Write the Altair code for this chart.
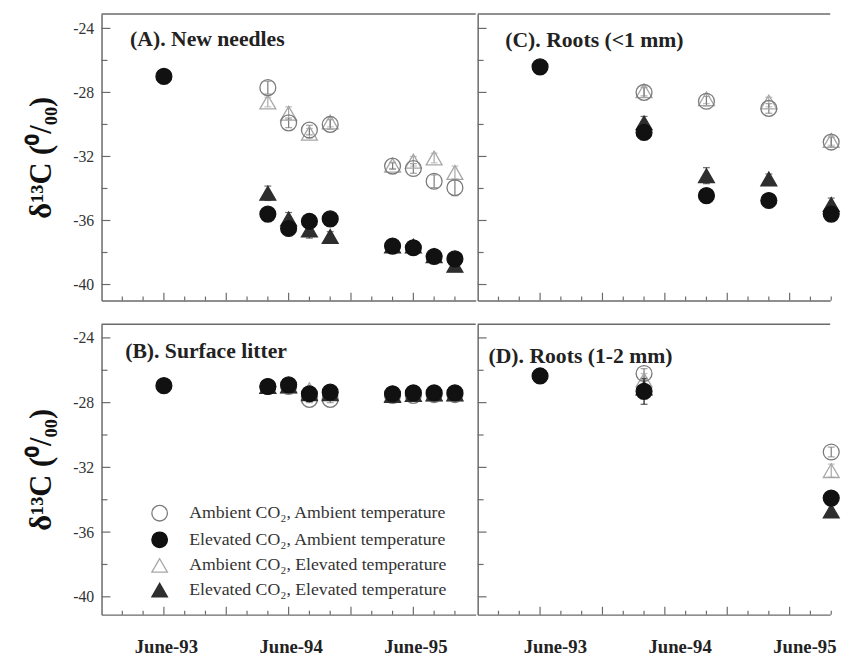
import altair as alt
import pandas as pd

SERIES = [
    "Ambient CO₂, Ambient temperature",
    "Elevated CO₂, Ambient temperature",
    "Ambient CO₂, Elevated temperature",
    "Elevated CO₂, Elevated temperature",
]
SHAPES = ["circle", "circle", "triangle-up", "triangle-up"]
FILLS = ["transparent", "#111111", "transparent", "#2e2e2e"]
STROKES = ["#7a7a7a", "#111111", "#a6a6a6", "#2e2e2e"]
DRAW_ORDER = [2, 0, 3, 1]

X_LABEL_POS = [0, 12, 24]
X_LABELS = ["June-93", "June-94", "June-95"]
X_MAJOR = [0, 6, 12, 18, 24]
X_MINOR = [-4, -2, 2, 4, 8, 10, 14, 16, 20, 22, 26, 28]
Y_MAJOR = [-40, -36, -32, -28, -24]
Y_MINOR = [-38, -34, -30, -26]
Y_TITLE = "δ¹³C (⁰/₀₀)"

# Panel A: New needles
A_MONTHS = [0, 10, 12, 14, 16, 22, 24, 26, 28]
A_VALS = [
    [None, -27.7, -29.9, -30.35, -30.0, -32.6, -32.75, -33.55, -33.95],
    [-27.0, -35.6, -36.5, -36.05, -35.9, -37.6, -37.7, -38.25, -38.4],
    [None, -28.6, -29.3, -30.55, -29.85, -32.55, -32.3, -32.1, -33.0],
    [None, -34.3, -35.9, -36.6, -37.0, -37.6, -37.6, -38.2, -38.8],
]
A_ERRS = [
    [None, 0.4, 0.3, 0.3, 0.3, 0.2, 0.3, 0.4, 0.5],
    [0.2, 0.3, 0.3, 0.3, 0.3, 0.2, 0.2, 0.2, 0.3],
    [None, 0.3, 0.4, 0.3, 0.3, 0.2, 0.3, 0.3, 0.4],
    [None, 0.45, 0.4, 0.5, 0.3, 0.2, 0.2, 0.2, 0.3],
]

# Panel B: Surface litter
B_MONTHS = [0, 10, 12, 14, 16, 22, 24, 26, 28]
B_VALS = [
    [None, -27.0, -27.0, -27.8, -27.8, -27.55, -27.55, -27.5, -27.5],
    [-26.95, -27.0, -26.9, -27.45, -27.35, -27.45, -27.4, -27.4, -27.4],
    [None, -27.0, -27.0, -27.2, -27.4, -27.5, -27.5, -27.5, -27.5],
    [None, -27.0, -26.95, -27.45, -27.45, -27.55, -27.5, -27.45, -27.45],
]
B_ERRS = [
    [None, 0.2, 0.2, 0.2, 0.2, 0.2, 0.2, 0.2, 0.2],
    [0.2, 0.2, 0.2, 0.2, 0.2, 0.2, 0.2, 0.2, 0.2],
    [None, 0.2, 0.2, 0.2, 0.2, 0.2, 0.2, 0.2, 0.2],
    [None, 0.2, 0.2, 0.2, 0.2, 0.2, 0.2, 0.2, 0.2],
]

# Panel C: Roots (<1 mm)
C_MONTHS = [0, 10, 16, 22, 28]
C_VALS = [
    [None, -28.0, -28.55, -29.0, -31.1],
    [-26.4, -30.5, -34.45, -34.75, -35.6],
    [None, -27.9, -28.4, -28.6, -31.0],
    [None, -29.9, -33.2, -33.4, -35.0],
]
C_ERRS = [
    [None, 0.3, 0.3, 0.3, 0.3],
    [0.2, 0.3, 0.3, 0.3, 0.3],
    [None, 0.3, 0.3, 0.3, 0.3],
    [None, 0.4, 0.5, 0.3, 0.4],
]

# Panel D: Roots (1-2 mm)
D_MONTHS = [0, 10, 28]
D_VALS = [
    [None, -26.2, -31.05],
    [-26.35, -27.3, -33.9],
    [None, -26.6, -32.2],
    [None, -27.1, -34.7],
]
D_ERRS = [
    [None, 0.3, 0.3],
    [0.2, 0.8, 0.4],
    [None, 0.4, 0.4],
    [None, 0.5, 0.35],
]

FONT = "Liberation Serif"
AXIS_COLOR = "#6a6a6a"

LEGEND = alt.Legend(
    title=None, orient="none", legendX=50, legendY=183,
    labelFont=FONT, labelFontSize=18, labelColor="#333333", labelLimit=0,
    symbolSize=250, symbolStrokeWidth=1.3, rowPadding=5, labelOffset=21,
    padding=0,
)


def long_df(months, vals, errs):
    rows = []
    for si in DRAW_ORDER:
        for m, v, e in zip(months, vals[si], errs[si]):
            if v is not None:
                rows.append({"month": m, "series": SERIES[si], "value": v,
                             "err": e, "ecolor": STROKES[si]})
    return pd.DataFrame(rows)


label_expr = "''"
for pos, lab in zip(reversed(X_LABEL_POS), reversed(X_LABELS)):
    label_expr = f"datum.value == {pos} ? '{lab}' : ({label_expr})"


def panel(months, vals, errs, title, tx, ty, width, height, xdom, ydom,
          left, bottom, label_offset, legend):
    df = long_df(months, vals, errs)
    xs = alt.Scale(domain=xdom, nice=False, zero=False)
    ys = alt.Scale(domain=ydom, nice=False, zero=False)
    xaxis = alt.Axis(
        values=X_LABEL_POS, labels=bottom, labelExpr=label_expr, ticks=False,
        grid=False, title="", labelPadding=23, labelFontSize=19,
        labelFontWeight="bold", labelOffset=label_offset, labelFont=FONT,
        labelColor="#222222", domainColor=AXIS_COLOR, domainWidth=1.5,
    )
    if left:
        yaxis = alt.Axis(
            values=Y_MAJOR, labels=True, ticks=False, grid=False, title=Y_TITLE,
            labelExpr="datum.value < 0 ? '-' + abs(datum.value) : '' + datum.value",
            labelPadding=8, labelFontSize=16, labelFont=FONT, labelColor="#333333",
            titleFont=FONT, titleFontSize=31, titleFontWeight="bold",
            titlePadding=16, titleColor="#111111",
            domainColor=AXIS_COLOR, domainWidth=1.5,
        )
    else:
        yaxis = alt.Axis(values=Y_MAJOR, labels=False, ticks=False, grid=False, title="",
                         domainColor=AXIS_COLOR, domainWidth=1.5)

    leg = LEGEND if legend else None
    base = alt.Chart(df)
    points = base.mark_point(filled=True, size=260, strokeWidth=1.3, opacity=1).encode(
        x=alt.X("month:Q", scale=xs, axis=xaxis),
        y=alt.Y("value:Q", scale=ys, axis=yaxis),
        shape=alt.Shape("series:N", scale=alt.Scale(domain=SERIES, range=SHAPES), legend=leg),
        fill=alt.Fill("series:N", scale=alt.Scale(domain=SERIES, range=FILLS), legend=leg),
        stroke=alt.Stroke("series:N", scale=alt.Scale(domain=SERIES, range=STROKES), legend=leg),
    )
    bars = base.mark_errorbar(ticks=True, size=7, thickness=1.2).encode(
        x=alt.X("month:Q", scale=xs, axis=xaxis),
        y=alt.Y("value:Q", scale=ys, axis=yaxis),
        yError="err:Q",
        color=alt.Color("ecolor:N", scale=None),
    )
    one = pd.DataFrame({"k": [0]})
    ymaj = alt.Chart(pd.DataFrame({"v": Y_MAJOR})).mark_rule(color=AXIS_COLOR, strokeWidth=1.2).encode(
        y=alt.Y("v:Q", scale=ys, axis=yaxis), x=alt.value(0), x2=alt.value(9))
    ymin = alt.Chart(pd.DataFrame({"v": Y_MINOR})).mark_rule(color=AXIS_COLOR, strokeWidth=1.2).encode(
        y=alt.Y("v:Q", scale=ys, axis=yaxis), x=alt.value(0), x2=alt.value(6))
    xmaj = alt.Chart(pd.DataFrame({"m": X_MAJOR})).mark_rule(color=AXIS_COLOR, strokeWidth=1.2).encode(
        x=alt.X("m:Q", scale=xs, axis=xaxis), y=alt.value(height), y2=alt.value(height - 8))
    xmin = alt.Chart(pd.DataFrame({"m": X_MINOR})).mark_rule(color=AXIS_COLOR, strokeWidth=1.2).encode(
        x=alt.X("m:Q", scale=xs, axis=xaxis), y=alt.value(height), y2=alt.value(height - 4))
    top = alt.Chart(one).mark_rule(color=AXIS_COLOR, strokeWidth=1.5).encode(
        x=alt.value(0), x2=alt.value(width), y=alt.value(0))
    ttl = alt.Chart(one).mark_text(
        text=title, align="left", baseline="middle", font=FONT, fontSize=22,
        fontWeight="bold", color="#222222").encode(x=alt.value(tx), y=alt.value(ty))
    return alt.layer(ymaj, ymin, xmaj, xmin, top, bars, points, ttl).properties(
        width=width, height=height)


TOP_Y = [-41.0, -23.1]
BOT_Y = [-41.1, -23.15]

pa = panel(A_MONTHS, A_VALS, A_ERRS, "(A). New needles", 29, 25, 380, 291,
           [-6, 30], TOP_Y, True, False, 0, False)
pc = panel(C_MONTHS, C_VALS, C_ERRS, "(C). Roots (<1 mm)", 28, 27, 358, 291,
           [-6, 27.9], TOP_Y, False, False, 0, False)
pb = panel(B_MONTHS, B_VALS, B_ERRS, "(B). Surface litter", 24, 27, 380, 295,
           [-6, 30], BOT_Y, True, True, 2, True)
pd_ = panel(D_MONTHS, D_VALS, D_ERRS, "(D). Roots (1-2 mm)", 11, 32, 358, 295,
            [-6, 27.9], BOT_Y, False, True, 15, False)

IND = dict(shape="independent", fill="independent", stroke="independent")
row1 = alt.hconcat(pa, pc, spacing=0).resolve_legend(**IND)
row2 = alt.hconcat(pb, pd_, spacing=0).resolve_legend(**IND)

chart = alt.vconcat(row1, row2, spacing=22).resolve_legend(**IND).properties(
    padding={"left": 17, "top": 0, "right": 0, "bottom": 0},
    background="white",
).configure_view(stroke=None)

chart.save("out.html", embed_options={"renderer": "svg", "actions": False})
